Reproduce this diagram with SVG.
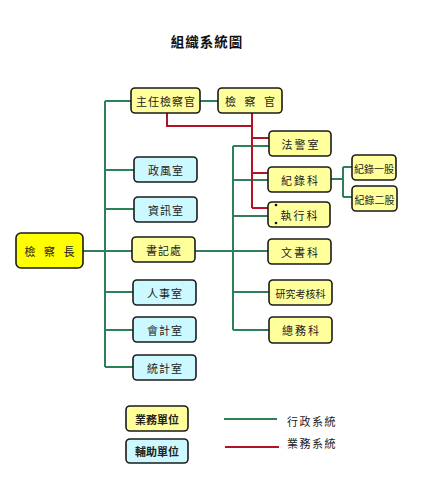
<svg xmlns="http://www.w3.org/2000/svg" width="442" height="500" viewBox="0 0 442 500">
<style>
.n rect{stroke:#1a1a1a;stroke-width:1.6}
.y rect{fill:#ffff9c}
.b rect{fill:#ccf8ff}
.k rect{fill:#ffff00}
text{font-family:"Noto Sans CJK TC","Noto Sans CJK SC",sans-serif;font-size:11px;fill:#222;text-anchor:middle;dominant-baseline:central}
.g{stroke:#2e8059;stroke-width:2;fill:none}
.r{stroke:#b3122a;stroke-width:2;fill:none}
.bold{font-weight:bold}
.sp{letter-spacing:3px}
.ls{letter-spacing:1.5px;text-anchor:start}
</style>
<rect width="442" height="500" fill="#fff"/>
<text x="207" y="41" class="bold" style="font-size:13.5px;fill:#111;letter-spacing:1px">組織系統圖</text>
<g id="connectors">
<path class="g" d="M105,101 V367 M105,101 H131 M105,170 H134 M105,209 H134 M83,251 H132 M105,292 H133 M105,330 H133 M105,367 H133"/>
<path class="g" d="M200,101 H218"/>
<path class="g" d="M195,251 H268 M233,146 V330 M233,146 H269 M233,180 H268 M233,216 H268 M233,292 H269 M233,330 H269"/>
<path class="g" d="M331,179 H343 M343,167 V197 M343,167 H352 M343,197 H352"/>
<path class="r" d="M167,113 V126 H252 M252,113 V208 M252,138 H269 M252,173 H268 M252,208 H268"/>
<path class="g" d="M224,419 H277"/>
<path class="r" d="M225,447 H279"/>
</g>
<g id="n-jcz" class="n k"><rect x="16" y="233" width="67" height="35" rx="5"/><text x="51" y="251" class="sp">檢 察 長</text></g>
<g id="n-zrjcg" class="n y"><rect x="131" y="88" width="69" height="25" rx="4"/><text x="166" y="101" style="letter-spacing:1px">主任檢察官</text></g>
<g id="n-jcg" class="n y"><rect x="218" y="88" width="64" height="25" rx="4"/><text x="251.5" y="101" class="sp">檢 察 官</text></g>
<g id="n-zfs" class="n b"><rect x="134" y="157" width="63" height="25" rx="4"/><text x="166" y="170" style="letter-spacing:1px">政風室</text></g>
<g id="n-zxs" class="n b"><rect x="134" y="197" width="63" height="25" rx="4"/><text x="166" y="210" style="letter-spacing:1px">資訊室</text></g>
<g id="n-sjc" class="n y"><rect x="132" y="237" width="63" height="25" rx="4"/><text x="164" y="250" style="letter-spacing:1px">書記處</text></g>
<g id="n-rss" class="n b"><rect x="133" y="280" width="63" height="25" rx="4"/><text x="165" y="293" style="letter-spacing:1px">人事室</text></g>
<g id="n-kjs" class="n b"><rect x="133" y="317" width="63" height="25" rx="4"/><text x="165" y="330" style="letter-spacing:1px">會計室</text></g>
<g id="n-tjs" class="n b"><rect x="133" y="355" width="63" height="25" rx="4"/><text x="165" y="368" style="letter-spacing:1px">統計室</text></g>
<g id="n-fjs" class="n y"><rect x="269" y="131" width="62" height="25" rx="4"/><text x="301" y="144" style="letter-spacing:2px">法警室</text></g>
<g id="n-jlk" class="n y"><rect x="268" y="167" width="63" height="25" rx="4"/><text x="300.5" y="180" style="letter-spacing:2px">紀錄科</text></g>
<g id="n-zxk" class="n y"><rect x="268" y="202" width="62" height="25" rx="4"/><circle cx="276" cy="205" r="1.3" fill="#111"/><circle cx="276" cy="223" r="1.3" fill="#111"/><text x="300" y="215" style="letter-spacing:2px">執行科</text></g>
<g id="n-wsk" class="n y"><rect x="268" y="239" width="63" height="25" rx="4"/><text x="300.5" y="252" style="letter-spacing:2px">文書科</text></g>
<g id="n-yjkhk" class="n y"><rect x="269" y="280" width="63" height="25" rx="4"/><text x="300.5" y="293" style="font-size:10px">研究考核科</text></g>
<g id="n-zwk" class="n y"><rect x="269" y="317" width="63" height="26" rx="4"/><text x="301.5" y="330" style="letter-spacing:2px">總務科</text></g>
<g id="n-jl1" class="n y"><rect x="352" y="155" width="44" height="25" rx="4"/><text x="374" y="168" style="font-size:10px">紀錄一股</text></g>
<g id="n-jl2" class="n y"><rect x="352" y="186" width="45" height="25" rx="4"/><text x="374.5" y="199" style="font-size:10px">紀錄二股</text></g>
<g id="legend-yw" class="n y"><rect x="126" y="406" width="62" height="25" rx="4"/><text x="157" y="419" class="bold">業務單位</text></g>
<g id="legend-fz" class="n b"><rect x="126" y="439" width="62" height="24" rx="4"/><text x="157" y="451" class="bold">輔助單位</text></g>
<text x="287" y="421" class="ls">行政系統</text>
<text x="287" y="443" class="ls">業務系統</text>
</svg>
